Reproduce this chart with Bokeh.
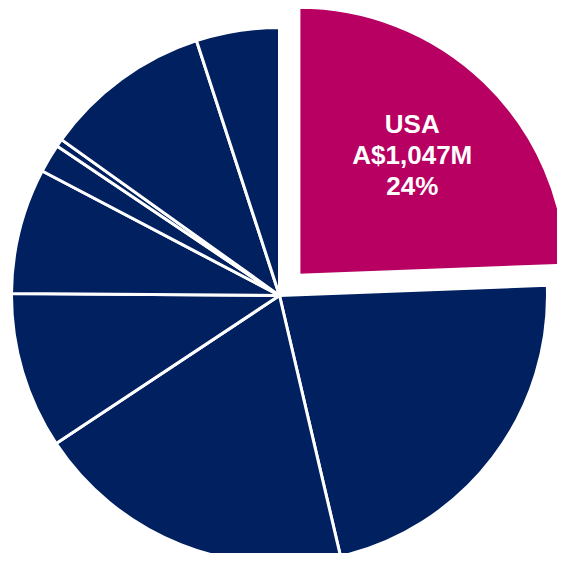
import math
from bokeh.plotting import figure
from bokeh.models import ColumnDataSource
from bokeh.core.properties import value
from bokeh.embed import file_html
from bokeh.resources import INLINE

# ---- data (A$ millions), clockwise from 12 o'clock ----
categories = ["USA", "Region 2", "Region 3", "Region 4", "Region 5",
              "Region 6", "Region 7", "Region 8", "Region 9"]
revenue = [1047, 942, 830, 405, 325, 74, 20, 434, 215]
highlight = "USA"

# ---- style ----
W, H = 557, 553
CX, CY = 279, 258        # pie centre in plot pixels (y up)
R = 268
EXPLODE = 28
NAVY = "#002060"
MAGENTA = "#B70062"

total = sum(revenue)
starts, ends, xs, ys, colors = [], [], [], [], []
cum = 0.0
for cat, v in zip(categories, revenue):
    a0 = math.pi / 2 - 2 * math.pi * cum / total
    cum += v
    a1 = math.pi / 2 - 2 * math.pi * cum / total
    mid = (a0 + a1) / 2
    off = EXPLODE if cat == highlight else 0
    starts.append(a0)
    ends.append(a1)
    xs.append(CX + off * math.cos(mid))
    ys.append(CY + off * math.sin(mid))
    colors.append(MAGENTA if cat == highlight else NAVY)

src = ColumnDataSource(dict(x=xs, y=ys, start=starts, end=ends, color=colors))

p = figure(width=W, height=H, x_range=(0, W), y_range=(0, H),
           output_backend="svg", toolbar_location=None, min_border=0)
p.axis.visible = False
p.grid.visible = False
p.outline_line_color = None
p.background_fill_color = "white"
p.border_fill_color = "white"

p.wedge(x="x", y="y", radius=R, start_angle="start", end_angle="end",
        direction="clock", fill_color="color", line_color="white",
        line_width=3, source=src)

# label for highlighted slice
i = categories.index(highlight)
mid = (starts[i] + ends[i]) / 2
lx = xs[i] + 0.61 * R * math.cos(mid)
ly = ys[i] + 0.61 * R * math.sin(mid) + 3
pct = round(100 * revenue[i] / total)
lines = [categories[i], f"A${revenue[i]:,}M", f"{pct}%"]
lsrc = ColumnDataSource(dict(x=[lx] * 3, y=[ly + 31, ly, ly - 31], t=lines))
p.text(x="x", y="y", text="t", source=lsrc, text_color="white",
       text_font=value("Liberation Sans"), text_font_style="bold",
       text_font_size="26px", text_align="center", text_baseline="middle")

open("out.html", "w").write(file_html(p, INLINE))
